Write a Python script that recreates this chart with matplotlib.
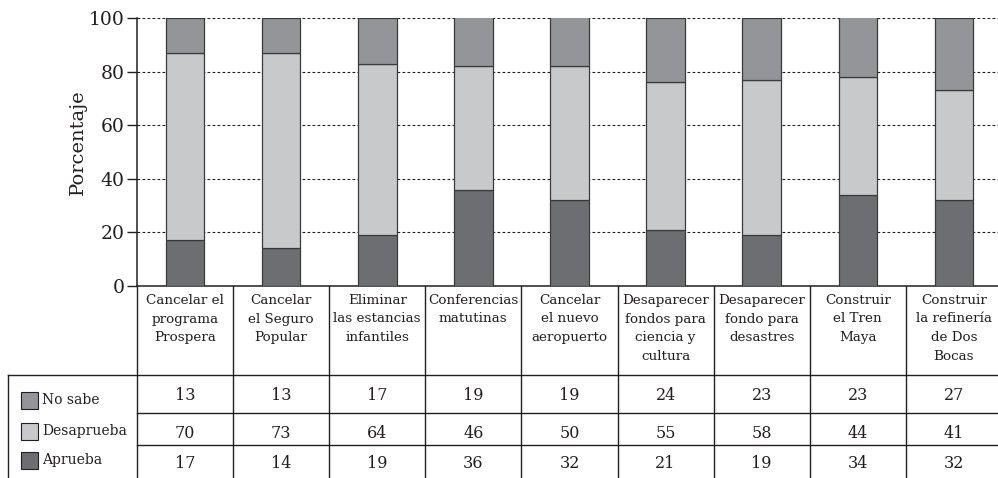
import matplotlib.pyplot as plt
from matplotlib.patches import Rectangle
import numpy as np

plt.rcParams['font.family'] = ['DejaVu Serif']

# Datos
categorias = [
    'Cancelar el\nprograma\nProspera',
    'Cancelar\nel Seguro\nPopular',
    'Eliminar\nlas estancias\ninfantiles',
    'Conferencias\nmatutinas',
    'Cancelar\nel nuevo\naeropuerto',
    'Desaparecer\nfondos para\nciencia y\ncultura',
    'Desaparecer\nfondo para\ndesastres',
    'Construir\nel Tren\nMaya',
    'Construir\nla refinería\nde Dos\nBocas',
]
aprueba = [17, 14, 19, 36, 32, 21, 19, 34, 32]
desaprueba = [70, 73, 64, 46, 50, 55, 58, 44, 41]
no_sabe = [13, 13, 17, 19, 19, 24, 23, 23, 27]

series = ['No sabe', 'Desaprueba', 'Aprueba']
colores = {'No sabe': '#939598', 'Desaprueba': '#c8c9cb', 'Aprueba': '#6d6e71'}
texto = '#231f20'

W, H = 998, 478
fig = plt.figure(figsize=(W / 100, H / 100), dpi=100)

# zona del gráfico (en píxeles)
x0, x1 = 137, 1002
y_top, y_cero, y_fin = 18, 286, 478
ax = fig.add_axes([x0 / W, 1 - y_cero / H, (x1 - x0) / W, (y_cero - y_top) / H])

x = np.arange(len(categorias))
ancho = 0.4
kw = dict(width=ancho, edgecolor='#3a3a3c', linewidth=0.9, zorder=3)
ax.bar(x, aprueba, color=colores['Aprueba'], **kw)
ax.bar(x, desaprueba, bottom=aprueba, color=colores['Desaprueba'], **kw)
base = np.array(aprueba) + np.array(desaprueba)
ax.bar(x, no_sabe, bottom=base, color=colores['No sabe'], **kw)

ax.set_xlim(-0.5, len(categorias) - 0.5)
ax.set_ylim(0, 100)
ax.set_yticks(range(0, 101, 20))
ax.tick_params(axis='y', labelsize=13.5, length=7, width=1, colors=texto, pad=2)
ax.tick_params(axis='x', bottom=False, labelbottom=False)
ax.yaxis.grid(True, linestyle=(0, (2.5, 2)), color=texto, linewidth=0.8, zorder=0)
ax.set_axisbelow(True)
ax.set_ylabel('Porcentaje', fontsize=14, color=texto, va='center')
ax.yaxis.set_label_coords(-0.068, 0.535)
for s in ['top', 'right']:
    ax.spines[s].set_visible(False)
for s in ['left', 'bottom']:
    ax.spines[s].set_color(texto)
    ax.spines[s].set_linewidth(1.1)

# tabla inferior
tb = fig.add_axes([x0 / W, 0, (x1 - x0) / W, (y_fin - y_cero) / H])
tb.set_xlim(-0.5, len(categorias) - 0.5)
tb.set_ylim(y_fin - y_cero, 0)
tb.axis('off')

col_w = (x1 - x0) / len(categorias)
x_leyenda = -0.5 - (x0 - 8) / col_w
fila_enc = 89
lineas = [89, 127, 159]
centros = [109, 147, 178]
lk = dict(color=texto, linewidth=1.0, clip_on=False)

for i in range(len(categorias) + 1):
    tb.plot([i - 0.5, i - 0.5], [0, y_fin - y_cero], **lk)
tb.plot([x_leyenda, len(categorias) - 0.5], [fila_enc, fila_enc], **lk)
tb.plot([x_leyenda, x_leyenda], [fila_enc, y_fin - y_cero], **lk)
for y in lineas[1:]:
    tb.plot([-0.5, len(categorias) - 0.5], [y, y], **lk)

for i, cat in enumerate(categorias):
    tb.text(i, 8, cat, ha='center', va='top', fontsize=9.7, color=texto,
            linespacing=1.55)

valores = {'No sabe': no_sabe, 'Desaprueba': desaprueba, 'Aprueba': aprueba}
centros_ley = [114, 145, 174]
for serie, yc, yl in zip(series, centros, centros_ley):
    for i, v in enumerate(valores[serie]):
        tb.text(i, yc, str(v), ha='center', va='center', fontsize=11.5, color=texto)
    cuadro_w = 17 / col_w
    tb.add_patch(Rectangle((x_leyenda + 13 / col_w, yl - 8.5), cuadro_w, 17,
                           facecolor=colores[serie], edgecolor=texto, linewidth=0.8,
                           clip_on=False))
    tb.text(x_leyenda + 34 / col_w, yl, serie, ha='left', va='center',
            fontsize=10, color=texto)

fig.savefig('out.png', dpi=100)
